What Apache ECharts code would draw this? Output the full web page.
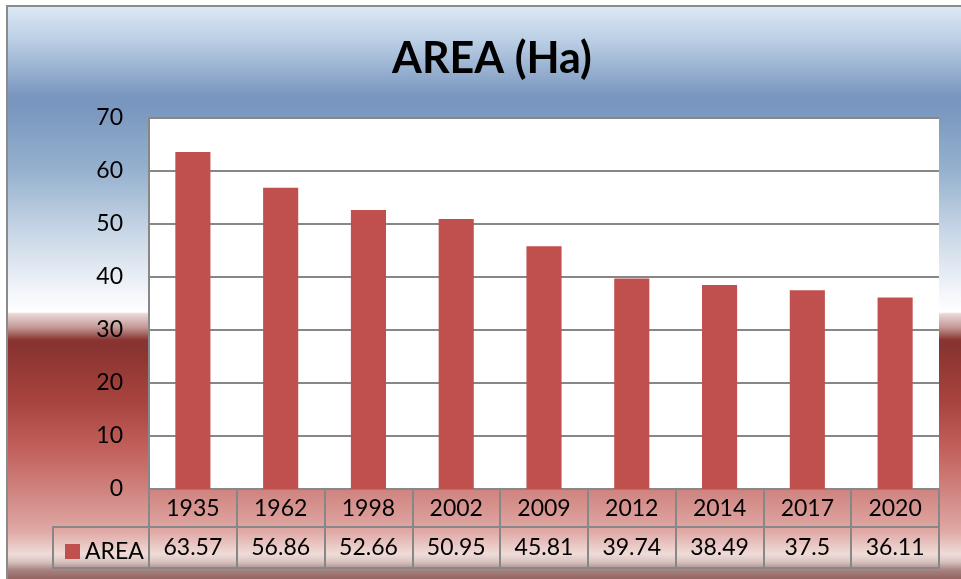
<!DOCTYPE html>
<html>
<head>
<meta charset="utf-8">
<script src="https://cdn.jsdelivr.net/npm/echarts@6/dist/echarts.min.js"></script>
<style>
  html, body { margin: 0; padding: 0; background: #fff; }
  #frame {
    position: absolute; left: 6px; top: 5px; width: 953px; height: 572px;
    border-left: 2px solid #8a8a8a; border-top: 2px solid #8a8a8a;
    background: linear-gradient(to bottom,
      #dce8f5 0px, #b9cde3 35px, #7895bf 90px, #7b98c0 105px,
      #97b2cf 165px, #c8d6e6 225px, #f3f6fa 285px, #ffffff 305px,
      #e8d8d6 307px, #c49a97 320px, #8a3532 333px, #893330 340px,
      #a8443f 395px, #c3625e 445px, #d08581 485px, #e0aaa6 525px,
      #efdcd8 547px, #d7c2be 555px, #a88380 563px, #8b5d5a 574px);
  }
  #chart { position: absolute; left: 0; top: 0; width: 961px; height: 579px; }
</style>
</head>
<body>
<div id="frame"></div>
<div id="chart"></div>
<script>
const years = ["1935", "1962", "1998", "2002", "2009", "2012", "2014", "2017", "2020"];
const area = [63.57, 56.86, 52.66, 50.95, 45.81, 39.74, 38.49, 37.5, 36.11];
const yTicks = { min: 0, max: 70, interval: 10 };

const gray = "#878787";
const font = "Lato, 'Open Sans', sans-serif";

const chart = echarts.init(document.getElementById("chart"), null, { renderer: "canvas" });

chart.setOption({
  backgroundColor: "transparent",
  animation: false,
  title: {
    text: "AREA (Ha)",
    left: 487,
    textAlign: "center",
    top: 33,
    textStyle: { fontFamily: font, fontWeight: "bold", fontSize: 43, color: "#000" },
  },
  legend: {
    data: ["AREA"],
    left: 60,
    top: 535,
    icon: "rect",
    itemWidth: 15,
    itemHeight: 15,
    itemGap: 6,
    textStyle: { fontFamily: font, fontSize: 23, color: "#000", padding: [0, 0, 0, 0] },
  },
  grid: {
    left: 149, right: 22, top: 118, bottom: 90,
    show: true, backgroundColor: "#fff", borderWidth: 0,
  },
  xAxis: [
    {
      type: "category",
      data: years,
      axisLine: { lineStyle: { color: gray, width: 2 } },
      axisTick: { show: true, length: 79, lineStyle: { color: gray, width: 2 } },
      axisLabel: { fontFamily: font, fontSize: 23, color: "#000", margin: 8 },
    },
    {
      type: "category",
      data: years,
      position: "bottom",
      offset: 38,
      axisLine: { lineStyle: { color: gray, width: 2 } },
      axisTick: { show: false },
      axisLabel: {
        fontFamily: font, fontSize: 23, color: "#000", margin: 9,
        formatter: (v, i) => String(area[i]),
      },
    },
    {
      type: "category",
      data: years,
      position: "bottom",
      offset: 79,
      axisLine: { lineStyle: { color: gray, width: 2 } },
      axisTick: { show: false },
      axisLabel: { show: false },
    },
  ],
  yAxis: {
    type: "value",
    min: yTicks.min,
    max: yTicks.max,
    interval: yTicks.interval,
    axisLine: { show: true, lineStyle: { color: gray, width: 2 } },
    axisTick: { show: false },
    splitLine: { lineStyle: { color: gray, width: 2 } },
    axisLabel: { fontFamily: font, fontSize: 23, color: "#000", margin: 26 },
  },
  graphic: [
    {
      // legend cell of the data table
      type: "rect",
      shape: { x: 53, y: 527, width: 96, height: 41 },
      style: { fill: "transparent", stroke: gray, lineWidth: 2 },
      z: 100,
    },
  ],
  series: [
    {
      name: "AREA",
      type: "bar",
      data: area,
      barWidth: "40%",
      itemStyle: { color: "#c0504d" },
    },
  ],
});
</script>
</body>
</html>
